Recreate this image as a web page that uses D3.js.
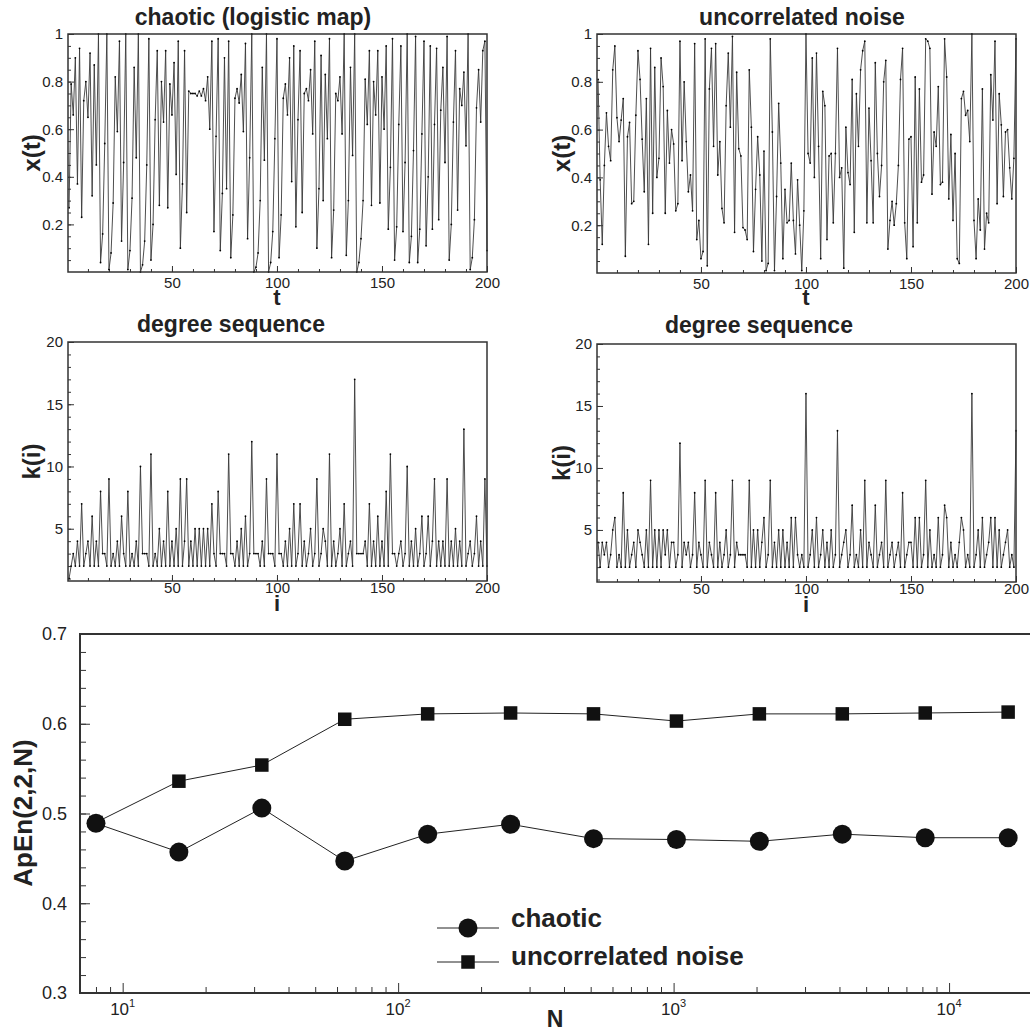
<!DOCTYPE html>
<html>
<head>
<meta charset="utf-8">
<script src="https://cdn.jsdelivr.net/npm/d3@7"></script>
<style>
  body { margin: 0; background: #fff; }
  svg text { font-family: "Liberation Sans", Arial, Helvetica, sans-serif; fill: #222; }
</style>
</head>
<body>
<div id="vis"></div>
<script>
// ---- data ----
// x(t), chaotic (logistic map), t = 1..200
var chaoticX = [
  0.27, 0.79, 0.66, 0.90, 0.37, 0.94, 0.23, 0.72, 0.80, 0.65,
  0.92, 0.32, 0.87, 0.45, 1.00, 0.04, 0.16, 0.54, 1.00, 0.01,
  0.08, 0.29, 0.82, 0.59, 0.97, 0.13, 0.46, 1.00, 0.01, 0.09,
  0.31, 0.86, 0.48, 1.00, 0.00, 0.03, 0.13, 0.45, 0.98, 0.05,
  0.20, 0.64, 0.93, 0.28, 0.80, 0.63, 0.93, 0.27, 0.79, 0.66,
  0.88, 0.41, 0.97, 0.10, 0.37, 0.93, 0.25, 0.76,
  0.75, 0.75, 0.75, 0.74, 0.76, 0.74, 0.77, 0.72, 0.82, 0.60,
  0.97, 0.17, 0.57, 0.98, 0.09, 0.33, 0.90, 0.35, 0.97, 0.06,
  0.24, 0.73, 0.77, 0.71, 0.83, 0.59, 0.96, 0.14, 0.48, 1.00,
  0.00, 0.02, 0.08, 0.30, 0.86, 0.47, 1.00, 0.00, 0.04, 0.17,
  0.56, 0.98, 0.06, 0.24, 0.73, 0.79, 0.66, 0.90,
  0.38, 0.95, 0.19, 0.64, 0.93, 0.25, 0.75, 0.77, 0.72, 0.85,
  0.58, 0.97, 0.10, 0.35, 0.91, 0.30, 0.83, 0.56, 0.98, 0.06,
  0.26, 0.75, 0.72, 0.82, 0.58, 1.00, 0.07, 0.30, 0.86, 0.49,
  1.00, 0.00,
  0.04, 0.14, 0.30, 0.81, 0.62, 0.93, 0.28, 0.80, 0.66, 0.93,
  0.29, 0.82, 0.60, 0.95, 0.18, 0.44, 0.98, 0.05, 0.19, 0.62,
  0.95, 0.17, 0.46, 1.00, 0.04, 0.15, 0.51,
  0.99, 0.04, 0.18, 0.58, 0.97, 0.11, 0.40, 0.95, 0.18, 0.62,
  0.94, 0.22, 0.68, 0.86, 0.46, 0.99, 0.05, 0.20, 0.63, 0.93,
  0.26, 0.77, 0.70, 0.84, 0.53, 1.00, 0.01, 0.06, 0.22, 0.69,
  0.85, 0.63, 0.93, 0.97, 0.09
];

// x(t), uncorrelated noise, t = 1..200
var noiseX = [
  0.81, 0.39, 0.12, 0.45, 0.67, 0.53, 0.47, 0.85, 0.95, 0.65,
  0.55, 0.64, 0.73, 0.07, 0.57, 0.63, 0.29, 0.30, 0.66, 0.93,
  0.81, 0.56, 0.34, 0.73, 0.12, 0.94, 0.25, 0.86, 0.40, 0.48,
  0.90, 0.78, 0.25, 0.68, 0.46, 0.60, 0.54, 0.26, 0.29, 0.97,
  0.47, 0.80, 0.55, 0.34, 0.41, 0.26, 0.96, 0.14, 0.22, 0.06,
  0.09, 0.98, 0.03, 0.77, 0.94, 0.53, 0.96,
  0.41, 0.55, 0.27, 0.21, 0.70, 0.92, 0.61, 0.99, 0.17, 0.84,
  0.52, 0.49, 0.19, 0.18, 0.14, 0.85, 0.61, 0.09, 0.35, 0.57,
  0.41, 0.05, 0.51, 0.01, 0.04, 0.98, 0.59, 0.01, 0.32, 0.71,
  0.46, 0.06, 0.35, 0.21, 0.22, 0.46, 0.22, 0.08, 0.39, 0.20,
  0.01, 0.26, 1.00, 0.50, 0.46, 0.90, 0.40, 0.92, 0.53, 0.06,
  0.76, 0.70, 0.14, 0.49, 0.50, 0.21, 0.50, 0.94, 0.40, 0.44,
  0.02, 0.61, 0.42, 0.37, 0.81, 0.17, 0.75, 0.53, 0.85, 0.93,
  0.97, 0.21, 0.69, 0.47, 0.21, 0.88, 0.50, 0.32, 0.45, 0.80,
  0.89, 0.10, 0.22, 0.30, 0.20, 0.29, 0.45, 0.81, 0.94, 0.21,
  0.06, 0.56, 0.57, 0.11, 0.82, 0.21, 0.77, 0.38, 0.41, 0.98,
  0.97, 0.94, 0.33, 0.59, 0.53, 0.78, 0.37, 0.38, 0.98, 0.82,
  0.31, 0.58, 0.22, 0.50, 0.06, 0.04, 0.73, 0.76, 0.66, 0.68,
  0.55, 1.00, 0.22, 0.06, 0.31, 0.18, 0.77, 0.10, 0.25, 0.21,
  0.83, 0.64, 0.97, 0.29, 0.75, 0.62, 0.32, 0.59, 0.60, 0.44,
  0.31, 0.48, 0.98
];

// k(i), degree sequence of the chaotic series
var chaoticK = [
  1, 2, 3, 2, 4, 2, 7, 2, 3, 4,
  2, 6, 2, 4, 2, 8, 3, 3, 2, 9,
  2, 3, 2, 4, 2, 6, 3, 2, 8, 2,
  3, 2, 4, 2, 10, 3, 3, 3, 2, 11,
  2, 3, 2, 5, 2, 4, 2, 8, 2, 4,
  2, 5, 2, 9, 2, 4, 9, 2, 4, 2,
  5, 2, 5, 2, 5, 2, 5, 2, 7, 3,
  2, 8, 3, 3, 3, 2, 11, 3, 3, 2,
  4, 2, 5, 2, 6, 2, 3, 12, 3, 3,
  3, 2, 4, 2, 9, 3, 3, 3, 2, 11,
  3, 3, 2, 4, 2, 5, 2, 7, 2, 3,
  7, 2, 4, 2, 3, 5, 2, 3, 9, 2,
  3, 5, 4, 2, 11, 2, 4, 2, 3, 5,
  2, 7, 2, 3, 4, 2, 17, 3, 3, 3,
  3, 4, 2, 7, 2, 4, 2, 6, 2, 4,
  2, 8, 2, 11, 3, 3, 2, 3, 4, 2,
  3, 10, 2, 4, 2, 5, 2, 3, 6, 2,
  3, 6, 2, 4, 9, 2, 4, 2, 4, 2,
  9, 2, 4, 2, 5, 2, 4, 2, 13, 2,
  3, 4, 2, 3, 6, 2, 4, 2, 9, 2
];

// k(i), degree sequence of the noise series
var noiseK = [
  4, 2, 4, 3, 4, 2, 3, 5, 6, 2,
  3, 2, 8, 2, 5, 2, 3, 4, 2, 5,
  4, 3, 2, 5, 2, 9, 2, 5, 2, 5,
  2, 5, 3, 5, 2, 4, 4, 2, 3, 12,
  2, 4, 3, 4, 2, 3, 8, 2, 4, 3,
  2, 9, 2, 4, 3, 2, 8, 2, 4, 2,
  3, 5, 2, 3, 9, 2, 4, 3, 3, 3,
  3, 2, 9, 2, 5, 2, 5, 2, 4, 6,
  2, 3, 9, 2, 4, 2, 5, 2, 5, 2,
  4, 2, 6, 2, 6, 3, 2, 3, 2, 16,
  2, 3, 5, 2, 6, 2, 3, 5, 2, 4,
  2, 5, 2, 3, 13, 2, 3, 4, 5, 2,
  3, 7, 2, 3, 2, 5, 2, 9, 2, 4,
  3, 2, 7, 2, 3, 4, 2, 9, 2, 3,
  4, 2, 3, 4, 2, 8, 2, 3, 4, 4,
  2, 6, 2, 6, 2, 3, 9, 2, 5, 2,
  3, 2, 6, 2, 3, 7, 6, 2, 4, 2,
  3, 2, 4, 6, 5, 2, 3, 2, 16, 2,
  3, 5, 2, 6, 2, 3, 4, 6, 2, 6,
  2, 5, 2, 3, 4, 5, 2, 3, 2, 13
];

// ApEn(2,2,N) against series length N
var sizesN = [8, 16, 32, 64, 128, 256, 512, 1024, 2048, 4096, 8192, 16384];
var apenChaotic = [0.489, 0.457, 0.506, 0.447, 0.477, 0.488, 0.472, 0.471, 0.469, 0.477, 0.473, 0.473];
var apenNoise = [0.490, 0.536, 0.554, 0.605, 0.611, 0.612, 0.611, 0.603, 0.611, 0.611, 0.612, 0.613];

var seriesTicks = [50, 100, 150, 200];
var xtTicks = [0.2, 0.4, 0.6, 0.8, 1];
var kTicks = [5, 10, 15, 20];
var apenTicks = [0.3, 0.4, 0.5, 0.6, 0.7];
var decadeTicks = [10, 100, 1000, 10000];

var FONT = '"Liberation Sans", Arial, Helvetica, sans-serif';

var svg = d3.select('#vis')
    .append('svg')
    .attr('width', 1030)
    .attr('height', 1032);

function styleAxis(a, size) {
    a.select('.domain').remove();
    a.attr('font-family', FONT).attr('font-size', size);
    a.selectAll('line').attr('stroke', '#333');
    a.selectAll('text').attr('fill', '#222');
}

function panel(cfg) {
    var x = d3.scaleLinear().domain([0.5, 200]).range([cfg.left, cfg.right]);
    var y = d3.scaleLinear().domain(cfg.ydom).range([cfg.bottom, cfg.top]);
    var g = svg.append('g');

    // minor + major ticks, pointing inside
    g.append('g')
        .attr('transform', 'translate(0,' + cfg.bottom + ')')
        .call(d3.axisBottom(x).tickValues(d3.range(10, 201, 10)).tickFormat('').tickSize(-3))
        .call(styleAxis, 15);
    g.append('g')
        .attr('transform', 'translate(0,' + cfg.bottom + ')')
        .call(d3.axisBottom(x).tickValues(seriesTicks).tickSize(-6).tickPadding(cfg.xpad))
        .call(styleAxis, 15);
    g.append('g')
        .attr('transform', 'translate(' + cfg.left + ',0)')
        .call(d3.axisLeft(y).tickValues(cfg.yminor).tickFormat('').tickSize(-3))
        .call(styleAxis, 15);
    g.append('g')
        .attr('transform', 'translate(' + cfg.left + ',0)')
        .call(d3.axisLeft(y).tickValues(cfg.yticks).tickFormat(function(d) { return String(d); })
            .tickSize(-6).tickPadding(5))
        .call(styleAxis, 15);

    var line = d3.line()
        .x(function(d, i) { return x(i + 1); })
        .y(function(d) { return y(d); });

    g.append('path')
        .datum(cfg.data)
        .attr('d', line)
        .attr('fill', 'none')
        .attr('stroke', '#3a3a3a')
        .attr('stroke-width', 0.9);

    g.selectAll('.pt')
        .data(cfg.data)
        .enter()
        .append('circle')
        .attr('class', 'pt')
        .attr('cx', function(d, i) { return x(i + 1); })
        .attr('cy', function(d) { return y(d); })
        .attr('r', 0.9)
        .attr('fill', '#000');

    g.append('rect')
        .attr('x', cfg.left)
        .attr('y', cfg.top)
        .attr('width', cfg.right - cfg.left)
        .attr('height', cfg.bottom - cfg.top)
        .attr('fill', 'none')
        .attr('stroke', '#333')
        .attr('stroke-width', 1.5);

    g.append('text')
        .attr('x', cfg.titleX)
        .attr('y', cfg.titleY)
        .attr('text-anchor', 'middle')
        .attr('font-size', 23)
        .attr('font-weight', 'bold')
        .text(cfg.title);

    g.append('text')
        .attr('transform', 'translate(' + cfg.ylabX + ',' + ((cfg.top + cfg.bottom) / 2) + ') rotate(-90)')
        .attr('text-anchor', 'middle')
        .attr('dominant-baseline', 'central')
        .attr('font-size', 24)
        .attr('font-weight', 'bold')
        .text(cfg.ylab);

    // axis title sits just under the "100" label, as in the source figure
    g.append('text')
        .attr('x', x(100))
        .attr('y', cfg.xlabY)
        .attr('text-anchor', 'middle')
        .attr('font-size', 22)
        .attr('font-weight', 'bold')
        .text(cfg.xlab);
}

var topMinor = d3.range(1, 20).map(function(d) { return d * 0.05; }).concat([1]);
var kMinor = d3.range(1, 21);

panel({ data: chaoticX, left: 68, right: 487, top: 34, bottom: 272, ydom: [0, 1],
        yticks: xtTicks, yminor: topMinor, xpad: 5,
        title: 'chaotic (logistic map)', titleX: 253, titleY: 25,
        ylab: 'x(t)', ylabX: 31, xlab: 't', xlabY: 305 });
panel({ data: noiseX, left: 597, right: 1016, top: 34, bottom: 273, ydom: [0, 1],
        yticks: xtTicks, yminor: topMinor, xpad: 5,
        title: 'uncorrelated noise', titleX: 802, titleY: 25,
        ylab: 'x(t)', ylabX: 561, xlab: 't', xlabY: 305 });
panel({ data: chaoticK, left: 68, right: 487, top: 342, bottom: 581, ydom: [0.8, 20],
        yticks: kTicks, yminor: kMinor, xpad: 1,
        title: 'degree sequence', titleX: 231, titleY: 332,
        ylab: 'k(i)', ylabX: 31, xlab: 'i', xlabY: 611 });
panel({ data: noiseK, left: 597, right: 1016, top: 344, bottom: 582, ydom: [0.8, 20],
        yticks: kTicks, yminor: kMinor, xpad: 1,
        title: 'degree sequence', titleX: 759, titleY: 333,
        ylab: 'k(i)', ylabX: 561, xlab: 'i', xlabY: 612 });

// ---- bottom chart: ApEn vs N ----
var bx = d3.scaleLog().domain([7, 20000]).range([80, 1032]);
var by = d3.scaleLinear().domain([0.3, 0.7]).range([993, 634]);
var bg = svg.append('g');

var logMinor = [8, 9];
[10, 100, 1000, 10000].forEach(function(dec) {
    d3.range(2, 10).forEach(function(m) {
        if (dec * m <= 20000) logMinor.push(dec * m);
    });
});

bg.append('g')
    .attr('transform', 'translate(0,993)')
    .call(d3.axisBottom(bx).tickValues(logMinor).tickFormat('').tickSize(-6))
    .call(styleAxis, 17);
bg.append('g')
    .attr('transform', 'translate(0,993)')
    .call(d3.axisBottom(bx).tickValues(decadeTicks).tickFormat('').tickSize(-10))
    .call(styleAxis, 17);
bg.append('g')
    .attr('transform', 'translate(80,0)')
    .call(d3.axisLeft(by).tickValues(d3.range(15, 36).map(function(d) { return d * 0.02; })).tickFormat('').tickSize(-6))
    .call(styleAxis, 18);
bg.append('g')
    .attr('transform', 'translate(80,0)')
    .call(d3.axisLeft(by).tickValues(apenTicks).tickFormat(d3.format('.1f')).tickSize(-10).tickPadding(13))
    .call(styleAxis, 18);

var decLab = bg.selectAll('.declab')
    .data(decadeTicks)
    .enter()
    .append('text')
    .attr('class', 'declab')
    .attr('x', function(d) { return bx(d); })
    .attr('y', 1015)
    .attr('text-anchor', 'middle')
    .attr('font-size', 17);
decLab.append('tspan').text('10');
decLab.append('tspan')
    .attr('dy', -8)
    .attr('font-size', 11)
    .text(function(d) { return Math.round(Math.log10(d)); });

var bline = d3.line()
    .x(function(d, i) { return bx(sizesN[i]); })
    .y(function(d) { return by(d); });

bg.append('path').datum(apenNoise).attr('d', bline)
    .attr('fill', 'none').attr('stroke', '#222').attr('stroke-width', 1);
bg.append('path').datum(apenChaotic).attr('d', bline)
    .attr('fill', 'none').attr('stroke', '#222').attr('stroke-width', 1);

bg.selectAll('.sq')
    .data(apenNoise)
    .enter()
    .append('rect')
    .attr('class', 'sq')
    .attr('x', function(d, i) { return bx(sizesN[i]) - 6.75; })
    .attr('y', function(d) { return by(d) - 6.75; })
    .attr('width', 13.5)
    .attr('height', 13.5)
    .attr('fill', '#111');

bg.selectAll('.dot')
    .data(apenChaotic)
    .enter()
    .append('circle')
    .attr('class', 'dot')
    .attr('cx', function(d, i) { return bx(sizesN[i]); })
    .attr('cy', function(d) { return by(d); })
    .attr('r', 9.5)
    .attr('fill', '#111');

bg.append('rect')
    .attr('x', 80).attr('y', 634)
    .attr('width', 1032 - 80).attr('height', 993 - 634)
    .attr('fill', 'none').attr('stroke', '#333').attr('stroke-width', 2);

// legend
bg.append('line').attr('x1', 437).attr('x2', 499).attr('y1', 928).attr('y2', 928)
    .attr('stroke', '#222').attr('stroke-width', 1);
bg.append('circle').attr('cx', 468).attr('cy', 928).attr('r', 9.5).attr('fill', '#111');
bg.append('text').attr('x', 511).attr('y', 927)
    .attr('font-size', 26).attr('font-weight', 'bold').text('chaotic');

bg.append('line').attr('x1', 437).attr('x2', 499).attr('y1', 962).attr('y2', 962)
    .attr('stroke', '#222').attr('stroke-width', 1);
bg.append('rect').attr('x', 468 - 6.75).attr('y', 962 - 6.75).attr('width', 13.5).attr('height', 13.5)
    .attr('fill', '#111');
bg.append('text').attr('x', 511).attr('y', 965)
    .attr('font-size', 26).attr('font-weight', 'bold').text('uncorrelated noise');

// axis titles
bg.append('text')
    .attr('transform', 'translate(23,813) rotate(-90)')
    .attr('text-anchor', 'middle')
    .attr('dominant-baseline', 'central')
    .attr('font-size', 26)
    .attr('font-weight', 'bold')
    .text('ApEn(2,2,N)');
bg.append('text')
    .attr('x', 555)
    .attr('y', 1027)
    .attr('text-anchor', 'middle')
    .attr('font-size', 23)
    .attr('font-weight', 'bold')
    .text('N');
</script>
</body>
</html>
